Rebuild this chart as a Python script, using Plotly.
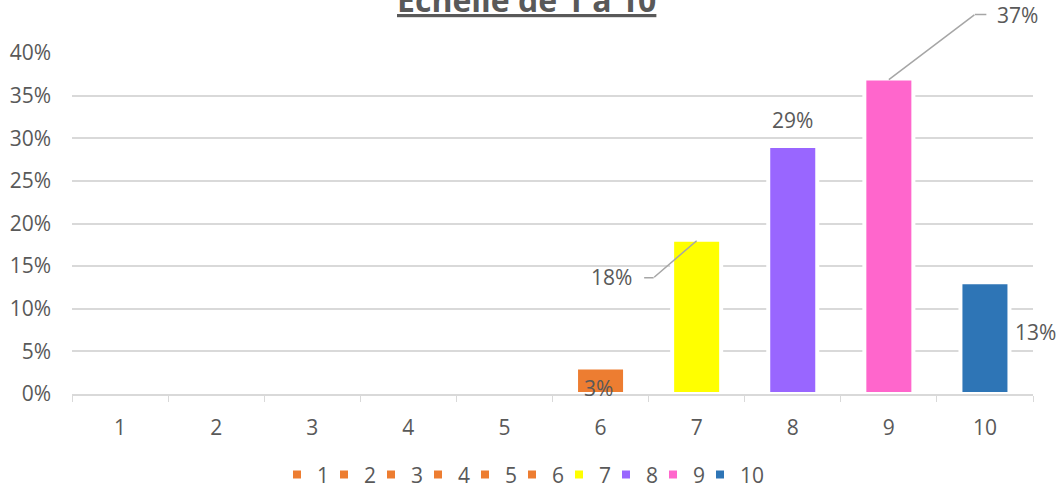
import plotly.graph_objects as go

categories = ["1", "2", "3", "4", "5", "6", "7", "8", "9", "10"]
values = [0, 0, 0, 0, 0, 0.031, 0.181, 0.291, 0.37, 0.131]
labels = ["", "", "", "", "", "3%", "18%", "29%", "37%", "13%"]
colors = ["#ED7D31", "#ED7D31", "#ED7D31", "#ED7D31", "#ED7D31", "#ED7D31",
          "#FFFF00", "#9966FF", "#FF66CC", "#2E75B6"]
title_text = "Echelle de 1 à 10"

FONT = "Open Sans, Liberation Sans, Arial, sans-serif"
TXT = "#595959"
GRID = "#D9D9D9"
LEAD = "#A6A6A6"

fig = go.Figure()
for cat, val, col in zip(categories, values, colors):
    fig.add_trace(go.Bar(
        x=[cat], y=[val], name=cat, width=0.51,
        marker=dict(color=col, line=dict(color="white", width=4)),
        hoverinfo="skip",
    ))
# empty, invisible legend spacer so the last legend label is not clipped
fig.add_trace(go.Bar(x=[None], y=[None], name="", hoverinfo="skip",
                     marker=dict(color="rgba(0,0,0,0)", line=dict(width=0))))

# label offsets (pixels) relative to bar top centre
label_pos = {
    "6": dict(base=True, xs=-2, ys=6, xa="center"),
    "7": dict(base=False, xs=-63, ys=-37, xa="right"),
    "8": dict(base=False, xs=0, ys=26, xa="center"),
    "9": dict(base=False, xs=106, ys=64, xa="left"),
    "10": dict(base=False, xs=28, ys=-50, xa="left"),
}
for i, (cat, val, lab) in enumerate(zip(categories, values, labels)):
    if not lab:
        continue
    p = label_pos[cat]
    yv = 0 if p["base"] else val
    fig.add_annotation(x=i, y=yv, xref="x", yref="y", text=lab, showarrow=False,
                       xanchor=p["xa"], yanchor="middle", xshift=p["xs"], yshift=p["ys"],
                       font=dict(family=FONT, size=21, color=TXT))

# leader lines: (elbow dx, dy in px, stub length)
leaders = {"7": (-43, 37, -10), "9": (86, -65, 12)}
for cat, (dx, dy, stub) in leaders.items():
    idx = categories.index(cat)
    fig.add_annotation(x=idx, y=values[idx], xref="x", yref="y", text="",
                       yshift=-1,
                       showarrow=True, arrowhead=0, arrowwidth=1.5, arrowcolor=LEAD,
                       ax=dx, ay=dy, standoff=0, startstandoff=0, borderpad=0)
    fig.add_annotation(x=idx, y=values[idx], xref="x", yref="y", text="",
                       xshift=dx, yshift=-dy - 1,
                       showarrow=True, arrowhead=0, arrowwidth=1.5, arrowcolor=LEAD,
                       ax=stub, ay=0, standoff=0, startstandoff=0, borderpad=0)

fig.add_annotation(text="<b><u>" + title_text + "</u></b>", xref="paper", yref="paper",
                   x=0.473, y=1 + 53.5 / 341, xanchor="center", yanchor="middle",
                   showarrow=False, font=dict(family=FONT, size=32, color=TXT))

fig.update_layout(
    width=1060, height=495,
    paper_bgcolor="white", plot_bgcolor="white",
    barmode="overlay",
    margin=dict(l=72, r=27, t=53, b=101, autoexpand=False),
    font=dict(family=FONT, size=21, color=TXT),
    showlegend=True,
    legend=dict(orientation="h", x=0.2133, xanchor="left", y=-0.237, yanchor="middle",
                font=dict(family=FONT, size=21, color=TXT), itemwidth=30,
                entrywidth=2, entrywidthmode="pixels"),
)
fig.update_xaxes(type="category", categoryorder="array", categoryarray=categories,
                 range=[-0.5, 9.5],
                 showline=True, linecolor=GRID, linewidth=1.5,
                 tickson="boundaries", ticks="outside", ticklen=6, tickcolor=GRID,
                 showgrid=False, ticklabelstandoff=14,
                 tickfont=dict(family=FONT, size=21, color=TXT))
fig.update_yaxes(range=[0, 0.40], dtick=0.05, tickformat=".0%",
                 showgrid=True, gridcolor=GRID, gridwidth=1.5,
                 zeroline=False, showline=False, ticks="",
                 ticklabelstandoff=20,
                 tickfont=dict(family=FONT, size=21, color=TXT))

fig.write_html("out.html", config={"displayModeBar": False},
               post_script="document.body.style.margin='0';")
